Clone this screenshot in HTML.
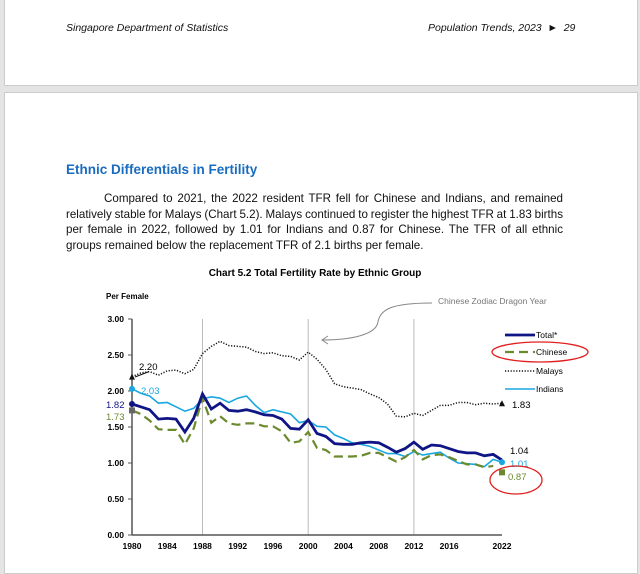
<!DOCTYPE html>
<html><head><meta charset="utf-8"><style>
html,body{margin:0;padding:0;background:#e4e4e4;width:640px;height:567px;overflow:hidden;font-family:"Liberation Sans",Arial,sans-serif}
.p1{position:absolute;left:4px;top:0;width:632px;height:85px;background:#fff;border:1px solid #ccc;border-top:none}
.p2{position:absolute;left:4px;top:92px;width:632px;height:480px;background:#fff;border:1px solid #ccc}
.hd{position:absolute;top:22px;font-size:10.5px;font-style:italic;color:#111}
.t{position:absolute;left:66px;top:162px;font-size:13.5px;font-weight:bold;color:#1a6cc0}
.para{position:absolute;left:66px;top:191px;width:497px;font-size:11.6px;line-height:15.7px;color:#111}
.para div{text-align:justify;text-align-last:justify;height:15.7px;word-spacing:-2px;white-space:nowrap}
.para div.l{text-align-last:left;word-spacing:0}
</style></head><body>
<div class="p1"></div><div class="p2"></div>
<div class="hd" style="left:66px">Singapore Department of Statistics</div>
<div class="hd" style="left:428px">Population Trends, 2023 &nbsp;►&nbsp; 29</div>
<div class="t">Ethnic Differentials in Fertility</div>
<div class="para">
<div style="padding-left:38px;white-space:normal">Compared to 2021, the 2022 resident TFR fell for Chinese and Indians, and remained</div>
<div style="white-space:normal">relatively stable for Malays (Chart 5.2). Malays continued to register the highest TFR at 1.83 births</div>
<div style="white-space:normal">per female in 2022, followed by 1.01 for Indians and 0.87 for Chinese. The TFR of all ethnic</div>
<div class="l">groups remained below the replacement TFR of 2.1 births per female.</div>
</div>
<svg id="c" width="640" height="567" style="position:absolute;left:0;top:0" font-family="Liberation Sans,Arial,sans-serif">
<text x="315" y="276" font-size="10" font-weight="bold" text-anchor="middle">Chart 5.2  Total Fertility Rate by Ethnic Group</text>
<text x="106" y="299" font-size="8" font-weight="bold">Per Female</text>
<g id="g"></g>
</svg>
<script>
var X=function(y){return 132+(y-1980)*370/42},Y=function(v){return 535-v*72};
var T=[1.82,1.78,1.74,1.61,1.62,1.61,1.43,1.62,1.96,1.75,1.83,1.73,1.72,1.74,1.71,1.67,1.66,1.61,1.48,1.47,1.60,1.41,1.37,1.27,1.26,1.26,1.28,1.29,1.28,1.22,1.15,1.20,1.29,1.19,1.25,1.24,1.20,1.16,1.14,1.14,1.10,1.12,1.04];
var C=[1.73,1.68,1.59,1.47,1.46,1.46,1.26,1.48,1.90,1.56,1.65,1.55,1.53,1.55,1.55,1.51,1.51,1.44,1.28,1.30,1.43,1.21,1.18,1.09,1.09,1.09,1.10,1.14,1.14,1.08,1.02,1.08,1.18,1.05,1.11,1.12,1.08,1.03,0.98,0.98,0.94,0.96];
var M=[2.20,2.25,2.27,2.22,2.28,2.29,2.24,2.30,2.52,2.62,2.69,2.63,2.62,2.61,2.55,2.52,2.53,2.49,2.48,2.43,2.54,2.44,2.30,2.10,2.06,2.04,2.02,1.96,1.91,1.82,1.65,1.64,1.69,1.66,1.73,1.80,1.80,1.84,1.84,1.81,1.83,1.82,1.83];
var I=[2.03,1.97,1.93,1.83,1.84,1.78,1.72,1.76,1.89,1.92,1.90,1.84,1.90,1.93,1.80,1.70,1.74,1.71,1.68,1.56,1.59,1.51,1.50,1.39,1.34,1.28,1.26,1.23,1.18,1.13,1.13,1.09,1.16,1.11,1.13,1.15,1.07,1.00,0.99,0.98,0.95,1.05,1.01];
function pts(a){return a.map(function(v,i){return X(1980+i).toFixed(1)+','+Y(v).toFixed(1)}).join(' ')}
var s='';
[1988,2000,2012].forEach(function(y){s+='<line x1="'+X(y)+'" y1="319" x2="'+X(y)+'" y2="535" stroke="#bbb" stroke-width="1"/>'});
s+='<line x1="132" y1="319" x2="132" y2="535" stroke="#555" stroke-width="1.5"/><line x1="132" y1="535" x2="502" y2="535" stroke="#555" stroke-width="1.5"/>';
for(var k=0;k<=6;k++){var v=k*0.5;s+='<line x1="128" y1="'+Y(v)+'" x2="132" y2="'+Y(v)+'" stroke="#555"/><text x="124" y="'+(Y(v)+3)+'" font-size="8.5" font-weight="bold" text-anchor="end">'+v.toFixed(2)+'</text>';}
for(var y=1980;y<=2022;y+=4){var yy=y>2016?2022:y;s+='<text x="'+X(yy)+'" y="549" font-size="8.5" font-weight="bold" text-anchor="middle">'+yy+'</text>';if(y>2016)break;}
s+='<polyline points="'+pts(M)+'" fill="none" stroke="#111" stroke-width="1.5" stroke-dasharray="1.2,1.6"/>';
s+='<polyline points="'+pts(I)+'" fill="none" stroke="#1aa7e0" stroke-width="1.6"/>';
s+='<polyline points="'+pts(C)+'" fill="none" stroke="#6b8a2e" stroke-width="2.2" stroke-dasharray="9,5"/>';
s+='<polyline points="'+pts(T)+'" fill="none" stroke="#101585" stroke-width="2.8"/>';
s+='<circle cx="132" cy="'+Y(1.82)+'" r="3" fill="#101585"/><circle cx="132" cy="'+Y(2.03)+'" r="3" fill="#1aa7e0"/><rect x="129" y="'+(Y(1.73)-3)+'" width="6" height="6" fill="#666"/>';
s+='<path d="M129,'+(Y(2.2)+3)+'l3,-6l3,6z" fill="#111"/><path d="M499,'+(Y(1.83)+3)+'l3,-6l3,6z" fill="#111"/>';
s+='<circle cx="502" cy="'+Y(1.01)+'" r="3" fill="#1aa7e0"/><rect x="499" y="'+(Y(0.87)-3)+'" width="6" height="6" fill="#6b8a2e"/>';
s+='<text x="139" y="370" font-size="9.5">2.20</text><path d="M135,377 L148,372" stroke="#111"/>';
s+='<text x="141" y="394" font-size="9.5" fill="#1aa7e0">2.03</text><text x="106" y="408" font-size="9.5" fill="#101585">1.82</text><text x="106" y="420" font-size="9.5" fill="#6b8a2e">1.73</text>';
s+='<text x="512" y="408" font-size="9.5">1.83</text><text x="510" y="454" font-size="9.5">1.04</text><text x="510" y="467" font-size="9.5" fill="#1aa7e0">1.01</text><text x="508" y="480" font-size="9.5" fill="#6b8a2e">0.87</text>';
s+='<line x1="505" y1="335" x2="535" y2="335" stroke="#101585" stroke-width="2.8"/><text x="536" y="338" font-size="8.5">Total*</text>';
s+='<line x1="505" y1="352" x2="535" y2="352" stroke="#6b8a2e" stroke-width="2.2" stroke-dasharray="9,5"/><text x="536" y="355" font-size="8.5">Chinese</text>';
s+='<line x1="505" y1="371" x2="535" y2="371" stroke="#111" stroke-width="1.5" stroke-dasharray="1.2,1.6"/><text x="536" y="374" font-size="8.5">Malays</text>';
s+='<line x1="505" y1="389" x2="535" y2="389" stroke="#1aa7e0" stroke-width="1.6"/><text x="536" y="392" font-size="8.5">Indians</text>';
s+='<text x="438" y="304" font-size="8.5" fill="#777">Chinese Zodiac Dragon Year</text>';
s+='<path d="M432,303 C390,303 380,310 378,322 C376,335 350,340 322,340" fill="none" stroke="#888"/><path d="M328,336 L322,340 L328,344" fill="none" stroke="#888"/>';
s+='<ellipse cx="540" cy="352" rx="48" ry="10" fill="none" stroke="#e02020" stroke-width="1.3"/><ellipse cx="516" cy="480" rx="26" ry="14" fill="none" stroke="#e02020" stroke-width="1.3"/>';
document.getElementById('g').innerHTML=s;
</script>
</body></html>
